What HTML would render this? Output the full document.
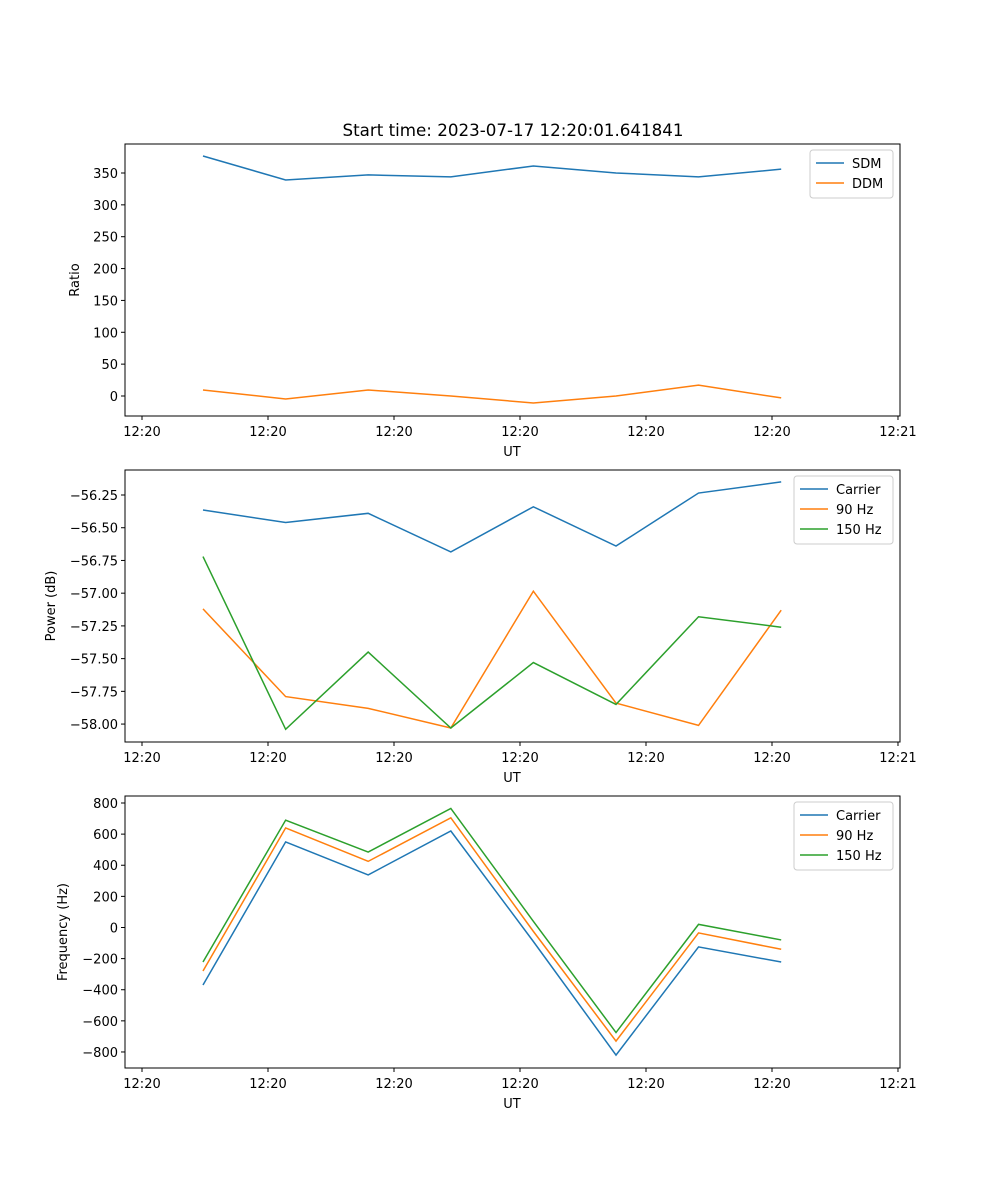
<!DOCTYPE html>
<html><head><meta charset="utf-8"><style>
html,body{margin:0;padding:0;background:#fff;}
svg{display:block;font-family:"DejaVu Sans","Liberation Sans",sans-serif;}
</style></head><body>
<svg id="fig" width="1000" height="1200" viewBox="0 0 1000 1200" xmlns="http://www.w3.org/2000/svg">
<rect width="1000" height="1200" fill="#fff"/>
<text x="513" y="136" font-size="16.7" text-anchor="middle">Start time: 2023-07-17 12:20:01.641841</text>
</svg>
<script>
// time in seconds after 12:20:00
const times = [4.84, 11.40, 17.95, 24.51, 31.06, 37.62, 44.17, 50.73];
const xTicks = [0, 10, 20, 30, 40, 50, 60];
const xTickLabels = ["12:20","12:20","12:20","12:20","12:20","12:20","12:21"];

const sdm = [376.7, 339, 347, 344, 361, 350, 344, 356];
const ddm = [9.4, -4.7, 9.4, 0, -11, 0, 17, -3];
const ratioTicks = [0, 50, 100, 150, 200, 250, 300, 350];

const powCarrier = [-56.365, -56.46, -56.39, -56.685, -56.34, -56.64, -56.235, -56.15];
const pow90 = [-57.12, -57.79, -57.88, -58.03, -56.985, -57.84, -58.01, -57.13];
const pow150 = [-56.72, -58.04, -57.45, -58.03, -57.53, -57.85, -57.18, -57.26];
const powTicks = [-58.00, -57.75, -57.50, -57.25, -57.00, -56.75, -56.50, -56.25];

const freqCarrier = [-370, 550, 338, 620, -90, -820, -125, -222];
const freq90 = [-280, 640, 425, 705, -25, -730, -35, -140];
const freq150 = [-222, 690, 485, 765, 40, -675, 20, -80];
const freqTicks = [-800, -600, -400, -200, 0, 200, 400, 600, 800];

const svg = document.getElementById('fig');
const NS = 'http://www.w3.org/2000/svg';
function mk(tag, attrs, parent){const e=document.createElementNS(NS,tag);for(const k in attrs)e.setAttribute(k,attrs[k]);(parent||svg).appendChild(e);return e;}

const L=125,R=900,xMin=-1.35,xMax=60.16;
function xs(t){return L+(t-xMin)/(xMax-xMin)*(R-L);}

function panel(name, top, bottom, yMin, yMax, ticks, fmt, ylabel, ylabelX, series, legend){
  const g=mk('g',{});
  
  
  const ys=v=>bottom-(v-yMin)/(yMax-yMin)*(bottom-top);
  series.forEach(s=>{
    const p=mk('polyline',{points:s.data.map((v,i)=>xs(times[i])+','+ys(v)).join(' '),fill:'none',stroke:s.color,'stroke-width':1.5},g);
    
    
  });
  mk('rect',{x:L,y:top,width:R-L,height:bottom-top,fill:'none',stroke:'#000','stroke-width':1},g);
  xTicks.forEach((t,i)=>{
    const x=xs(t);
    mk('line',{x1:x,x2:x,y1:bottom,y2:bottom+4,stroke:'#000'},g);
    const tx=mk('text',{x:x,y:bottom+20,'font-size':13,'text-anchor':'middle'},g);
    tx.textContent=xTickLabels[i];
    
    
  });
  ticks.forEach(v=>{
    const y=ys(v);
    mk('line',{x1:L-4,x2:L,y1:y,y2:y,stroke:'#000'},g);
    const tx=mk('text',{x:L-7,y:y+5,'font-size':13,'text-anchor':'end'},g);
    tx.textContent=fmt(v);
    
    
  });
  const xl=mk('text',{x:512,y:bottom+40,'font-size':13,'text-anchor':'middle'},g);
  xl.textContent='UT';
  
  
  const cy=(top+bottom)/2;
  const yl=mk('text',{x:ylabelX,y:cy,'font-size':13,'text-anchor':'middle',transform:'rotate(-90 '+ylabelX+' '+cy+')'},g);
  yl.textContent=ylabel;
  
  
  const lg=mk('g',{},g);
  
  
  mk('rect',{x:legend.x,y:top+6,width:legend.w,height:series.length*20+8,rx:3,fill:'#fff',stroke:'#ccc','fill-opacity':0.8},lg);
  series.forEach((s,i)=>{
    const yy=top+19+i*20;
    mk('line',{x1:legend.x+6,x2:legend.x+34,y1:yy,y2:yy,stroke:s.color,'stroke-width':1.5},lg);
    const t=mk('text',{x:legend.x+42,y:yy+5,'font-size':13},lg);
    t.textContent=s.label;
    
    
  });
}
const B='#1f77b4',O='#ff7f0e',G='#2ca02c';
panel('ratio',144,416,-31.4,395.5,ratioTicks,v=>String(v),'Ratio',79,
  [{key:'sdm',label:'SDM',data:sdm,color:B},{key:'ddm',label:'DDM',data:ddm,color:O}],{x:810,w:83});
panel('power',470,742,-58.137,-56.059,powTicks,v=>v.toFixed(2).replace('-','\u2212'),'Power (dB)',55,
  [{key:'carrier',label:'Carrier',data:powCarrier,color:B},{key:'90hz',label:'90 Hz',data:pow90,color:O},{key:'150hz',label:'150 Hz',data:pow150,color:G}],{x:794,w:99});
panel('frequency',796,1068,-903,845,freqTicks,v=>String(v).replace('-','\u2212'),'Frequency (Hz)',67,
  [{key:'carrier',label:'Carrier',data:freqCarrier,color:B},{key:'90hz',label:'90 Hz',data:freq90,color:O},{key:'150hz',label:'150 Hz',data:freq150,color:G}],{x:794,w:99});
</script>
</body></html>
